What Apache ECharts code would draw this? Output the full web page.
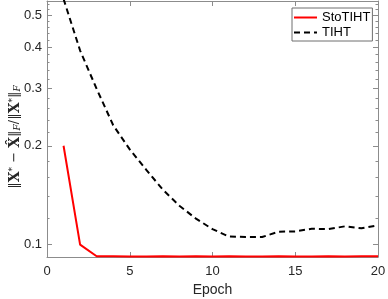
<!DOCTYPE html>
<html>
<head>
<meta charset="utf-8">
<script src="https://cdn.jsdelivr.net/npm/echarts@6/dist/echarts.min.js"></script>
<style>
html,body{margin:0;padding:0;background:#fff;}
#chart{width:388px;height:299px;}
</style>
</head>
<body>
<div id="chart"></div>
<script>
const epochs = [1,2,3,4,5,6,7,8,9,10,11,12,13,14,15,16,17,18,19,20];
const stoTIHT = [0.200,0.100,0.0922,0.0922,0.0921,0.0921,0.0922,0.0921,0.0922,0.0921,0.0922,0.0921,0.0921,0.0922,0.0921,0.0921,0.0922,0.0921,0.0922,0.0922];
const tiht = [0.56,0.39,0.298,0.231,0.195,0.169,0.147,0.1314,0.120,0.1115,0.1058,0.1055,0.1055,0.1095,0.1097,0.1118,0.1115,0.1137,0.1121,0.1145];
const xTicks = [0,5,10,15,20];
const yMajor = [0.1,0.2,0.3,0.4,0.5];
const yMinor = [0.12,0.14,0.16,0.18,0.22,0.24,0.26,0.28,0.32,0.34,0.36,0.38,0.42,0.44,0.46,0.48,0.52,0.54];
const seriesNames = ['StoTIHT','TIHT'];

const axisColor = '#8c8c8c';
const labelColor = '#262626';
const font = 'Liberation Sans, Arial, sans-serif';
const yMin = 0.0917, yMax = 0.552;

function yAx(pos, ticks, len, labels, line){
  return {
    type:'log', logBase:10, min:yMin, max:yMax, position:pos,
    axisLine:{show:line, onZero:false, lineStyle:{color:axisColor,width:1}},
    axisTick:{show:true, inside:true, length:len, customValues:ticks, lineStyle:{color:axisColor,width:1}},
    axisLabel:{show:labels, customValues:ticks, margin:5, color:labelColor, fontSize:13, fontFamily:font,
      formatter:function(v){return (Math.round(v*10)/10).toFixed(1);}},
    splitLine:{show:false}, minorTick:{show:false}
  };
}

const chart = echarts.init(document.getElementById('chart'), null, {renderer:'canvas'});
chart.setOption({
  animation:false,
  backgroundColor:'#fff',
  grid:{left:47, right:10, top:1, bottom:42, containLabel:false, outerBoundsMode:'none'},
  xAxis:[
    {type:'value', min:0, max:20, interval:5, position:'bottom',
     name:'Epoch', nameLocation:'middle', nameGap:22,
     nameTextStyle:{fontSize:14, color:labelColor, fontFamily:font},
     axisLine:{show:true, onZero:false, lineStyle:{color:axisColor,width:1}},
     axisTick:{show:true, inside:true, length:5, customValues:xTicks, lineStyle:{color:axisColor}},
     axisLabel:{show:true, customValues:xTicks, margin:8, color:labelColor, fontSize:13, fontFamily:font},
     splitLine:{show:false}},
    {type:'value', min:0, max:20, interval:5, position:'top',
     axisLine:{show:true, onZero:false, lineStyle:{color:axisColor,width:1}},
     axisTick:{show:true, inside:true, length:5, customValues:xTicks, lineStyle:{color:axisColor}},
     axisLabel:{show:false}, splitLine:{show:false}}
  ],
  yAxis:[
    yAx('left', yMajor, 5, true, true),
    yAx('left', yMinor, 2.5, false, false),
    yAx('right', yMajor, 5, false, true),
    yAx('right', yMinor, 2.5, false, false)
  ],
  legend:{
    data:seriesNames, orient:'vertical', left:292, top:8,
    itemWidth:23, itemHeight:12, itemGap:2, padding:[3,2,2,1],
    borderColor:'#6e6e6e', borderWidth:1, backgroundColor:'#fff',
    itemStyle:{opacity:0},
    textStyle:{fontSize:13, color:'#000', fontFamily:font}
  },
  graphic:[{
    type:'text', x:15, y:137, rotation:Math.PI/2,
    style:{
      text:'{n|‖}{b|X}{sup|*}{n| − }{b|X̂}{n|‖}{sub|F}{n|/‖}{b|X}{sup|*}{n|‖}{sub|F}',
      align:'center', verticalAlign:'middle',
      rich:{
        n:{fontSize:13, fontFamily:'DejaVu Serif', fill:labelColor},
        b:{fontSize:14, fontWeight:'bold', fontFamily:'DejaVu Serif', fill:labelColor},
        sup:{fontSize:9, fontFamily:'DejaVu Serif', fill:labelColor, verticalAlign:'top'},
        sub:{fontSize:9, fontStyle:'italic', fontFamily:'DejaVu Serif', fill:labelColor, verticalAlign:'bottom'}
      }
    }
  }],
  series:[
    {name:seriesNames[0], type:'line', xAxisIndex:0, yAxisIndex:0, symbol:'none',
     data:epochs.map((e,i)=>[e, stoTIHT[i]]),
     lineStyle:{color:'#ff0000', width:2}, itemStyle:{color:'#ff0000'}},
    {name:seriesNames[1], type:'line', xAxisIndex:0, yAxisIndex:0, symbol:'none',
     data:epochs.map((e,i)=>[e, tiht[i]]),
     lineStyle:{color:'#000000', width:2, type:[6,4]}, itemStyle:{color:'#000000'}}
  ]
});
</script>
</body>
</html>
